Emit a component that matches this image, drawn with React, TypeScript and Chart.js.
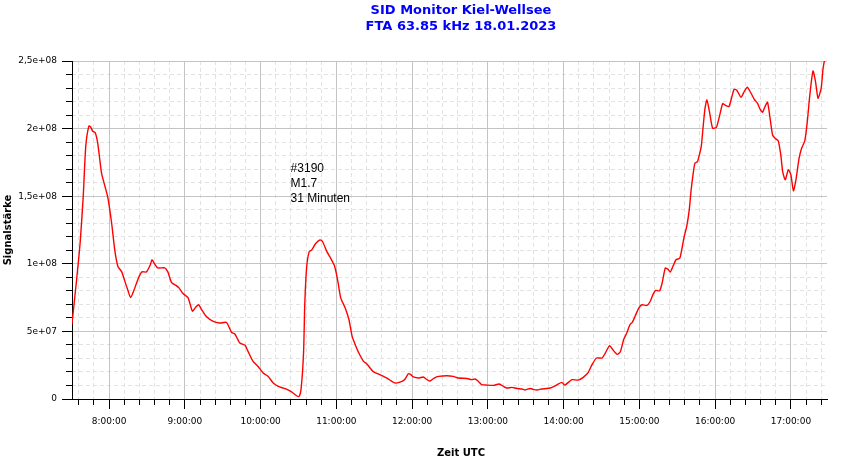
import React, { useEffect, useRef } from "react";
import { Chart, registerables } from "chart.js";
Chart.register(...registerables);

/** ---------- Data ---------- */
const titleLines = ["SID Monitor Kiel-Wellsee", "FTA 63.85 kHz 18.01.2023"];
const xTitle = "Zeit UTC";
const yTitle = "Signalstärke";
const flareNote = ["#3190", "M1.7", "31 Minuten"];
const flareNoteAt = { time: "10:23:45", value: 1.68e8 };

// sample times (UTC)
const times = [
  "7:30:30", "7:34:00", "7:37:00", "7:39:30", "7:41:30", "7:44:00", "7:45:30", "7:47:00", "7:49:00", "7:51:00",
  "7:54:00", "7:56:30", "7:59:00", "8:02:00", "8:04:30", "8:07:00", "8:10:00", "8:12:30", "8:15:00", "8:17:00",
  "8:19:30", "8:23:00", "8:26:00", "8:29:30", "8:32:30", "8:34:00", "8:36:00", "8:38:30", "8:44:00", "8:46:30",
  "8:49:30", "8:53:00", "8:55:30", "8:58:30", "9:02:30", "9:06:00", "9:09:00", "9:11:00", "9:13:00", "9:17:00",
  "9:22:30", "9:27:30", "9:33:00", "9:37:00", "9:39:30", "9:43:30", "9:47:30", "9:50:00", "9:54:00", "9:58:00",
  "10:02:00", "10:06:00", "10:10:00", "10:14:00", "10:19:30", "10:24:30", "10:28:30", "10:30:30", "10:32:00", "10:34:00",
  "10:35:00", "10:36:30", "10:38:30", "10:40:30", "10:43:30", "10:47:00", "10:49:00", "10:52:30", "10:55:00", "10:58:30",
  "11:01:00", "11:03:30", "11:07:00", "11:10:00", "11:12:30", "11:16:00", "11:18:30", "11:21:30", "11:24:00", "11:29:00",
  "11:34:30", "11:40:00", "11:46:30", "11:52:00", "11:54:30", "11:57:00", "11:59:00", "12:01:00", "12:05:00", "12:09:00",
  "12:11:00", "12:14:00", "12:17:30", "12:21:00", "12:27:30", "12:32:30", "12:36:30", "12:43:30", "12:47:00", "12:50:00",
  "12:52:30", "12:55:00", "12:59:00", "13:04:30", "13:09:00", "13:12:30", "13:15:00", "13:19:00", "13:23:00", "13:27:00",
  "13:29:30", "13:33:30", "13:36:00", "13:39:00", "13:42:30", "13:49:30", "13:53:30", "13:58:30", "14:01:00", "14:06:30",
  "14:11:30", "14:15:30", "14:19:30", "14:22:30", "14:26:00", "14:30:30", "14:33:00", "14:36:30", "14:39:00", "14:42:30",
  "14:45:00", "14:47:30", "14:50:00", "14:52:30", "14:54:30", "14:56:30", "14:59:30", "15:02:00", "15:06:00", "15:08:30",
  "15:11:00", "15:13:00", "15:16:00", "15:18:00", "15:20:30", "15:22:30", "15:24:30", "15:26:00", "15:29:00", "15:32:00",
  "15:33:30", "15:35:30", "15:37:30", "15:39:30", "15:41:00", "15:43:00", "15:44:00", "15:46:00", "15:47:30", "15:49:00",
  "15:50:30", "15:52:00", "15:53:30", "15:55:30", "15:58:00", "16:01:00", "16:03:30", "16:06:00", "16:08:30", "16:11:00",
  "16:15:00", "16:17:00", "16:20:30", "16:23:00", "16:25:30", "16:28:00", "16:31:00", "16:33:30", "16:35:30", "16:37:30",
  "16:39:30", "16:41:30", "16:43:30", "16:45:30", "16:47:30", "16:50:00", "16:52:00", "16:53:30", "16:55:30", "16:58:00",
  "17:00:00", "17:02:00", "17:04:00", "17:06:30", "17:08:30", "17:11:00", "17:13:00", "17:15:00", "17:17:30", "17:19:30",
  "17:21:30", "17:24:00", "17:25:30", "17:27:30",
];

// signal strength in units of 1e6
const signal = [
  55, 86, 115, 150, 187, 202, 201, 198, 197, 189,
  167, 158, 149, 130, 110, 98, 94, 87, 80, 75,
  80, 89, 94, 94, 99, 103, 100, 97, 97, 94,
  86, 84, 82, 78, 75, 65, 68.5, 69.7, 66.5, 61,
  57.4, 56.2, 56.6, 49.2, 48.3, 41.4, 39.9, 35.2, 27.8, 24.1,
  19.2, 16.7, 11.8, 9.3, 7.6, 5.2, 2.4, 1.9, 6.9, 34,
  71, 98, 109, 110.3, 114.8, 117.7, 116.5, 109, 105, 98.5,
  88, 74.6, 67.3, 58.6, 46.3, 37.7, 32.7, 27.8, 26.1, 20.4,
  18, 15.5, 11.8, 13, 14.8, 18.7, 18, 16.3, 15.5, 16.3,
  14.8, 13.3, 15.5, 16.7, 17.2, 16.7, 15.5, 15.2, 14.3, 14.8,
  13, 10.6, 10.3, 10.1, 11.1, 9.3, 8.1, 8.6, 7.8, 7.4,
  6.7, 7.8, 7.1, 6.7, 7.4, 8.1, 9.8, 12.3, 10.3, 14.3,
  14, 16, 19.7, 25.4, 30.3, 30.3, 34, 39.4, 36.4, 33,
  35.2, 43.8, 48.8, 54.9, 56.9, 61, 67.2, 69.7, 69.2, 72.1,
  77.8, 80.3, 80, 85.7, 96.8, 96.1, 93.9, 96.8, 103, 104.2,
  110.3, 120.2, 127.6, 139.9, 154.7, 169.5, 174.4, 175.6, 180.6, 186.7,
  201.5, 215.1, 221.2, 212.6, 200.3, 201, 209.4, 218.5, 217, 216.3,
  229.1, 228.6, 223.2, 227.3, 230.6, 226.9, 221.7, 218.8, 214.6, 212.1,
  216.3, 219.5, 207.7, 195.3, 192.9, 190.9, 180.6, 168.2, 162.1, 169.5,
  165.8, 154, 162.1, 178.1, 185.5, 190.9, 205.2, 224.9, 242.6, 234.7,
  222.5, 229.9, 244.6, 255,
];

// axis ranges and steps (x in minutes since midnight)
const xRange = { min: "7:30:36", max: "17:28:36" };
const xMajorStep = 60;
const xMinorStep = 12;
const yRange = { min: 0, max: 2.5e8 };
const yMajorStep = 5e7;
const yMinorStep = 1e7;

/** ---------- Helpers ---------- */
function toMinutes(t: string) {
  const [h, m, s] = t.split(":").map(Number);
  return h * 60 + m + (s || 0) / 60;
}

function fmtTime(min: number) {
  const h = Math.floor(min / 60);
  const m = Math.round(min - h * 60);
  return `${h}:${String(m).padStart(2, "0")}:00`;
}

// 2.5e8 -> "2,5e+08"
function fmtSci(v: number) {
  if (v === 0) return "0";
  const [mant, e] = v.toExponential().split("e");
  const exp = Number(e);
  return `${mant.replace(".", ",")}e${exp < 0 ? "-" : "+"}${String(Math.abs(exp)).padStart(2, "0")}`;
}

// ticks on whole multiples of step, inside the axis range
function stepTicks(scale: any, step: number) {
  const out: { value: number }[] = [];
  for (let v = Math.ceil(scale.min / step) * step; v <= scale.max + 1e-9; v += step) out.push({ value: v });
  scale.ticks = out;
}

const TICK_FONT = { family: "'DejaVu Sans'", size: 9 };
const MAJOR_GRID = "#c4c4c4";
const MINOR_GRID = "#e2e2e2";
const CLEAR = "rgba(0,0,0,0)";

/** ---------- Texts drawn on top ---------- */
const textPlugin = {
  id: "sid-texts",
  afterDraw(chart: any) {
    const { ctx, chartArea, scales } = chart;
    const cx = (chartArea.left + chart.width) / 2;
    ctx.save();

    ctx.fillStyle = "#0000ff";
    ctx.font = "bold 13px 'DejaVu Sans'";
    ctx.textAlign = "center";
    ctx.textBaseline = "alphabetic";
    ctx.fillText(titleLines[0], cx, 13.5);
    ctx.fillText(titleLines[1], cx, 29.5);

    ctx.fillStyle = "#000";
    ctx.font = "bold 10px 'DejaVu Sans'";
    ctx.fillText(xTitle, cx, 456);

    ctx.save();
    ctx.translate(11.3, (chartArea.top + chartArea.bottom) / 2);
    ctx.rotate(-Math.PI / 2);
    ctx.fillText(yTitle, 0, 0);
    ctx.restore();

    // flare annotation, anchored through the scales
    const nx = scales.x.getPixelForValue(toMinutes(flareNoteAt.time));
    const ny = scales.y.getPixelForValue(flareNoteAt.value);
    ctx.font = "12px 'Liberation Sans'";
    ctx.textAlign = "left";
    flareNote.forEach((line, i) => ctx.fillText(line, nx, ny + i * 15));

    ctx.restore();
  },
};

/** ---------- Component ---------- */
export default function App() {
  const canvasRef = useRef<HTMLCanvasElement | null>(null);

  useEffect(() => {
    document.body.style.margin = "0";
    const canvas = canvasRef.current;
    if (!canvas) return;

    const xMin = toMinutes(xRange.min);
    const xMax = toMinutes(xRange.max);
    const points = times.map((t, i) => ({ x: toMinutes(t), y: signal[i] * 1e6 }));

    const chart = new Chart(canvas, {
      type: "line",
      data: {
        datasets: [
          {
            label: "Signal",
            data: points,
            xAxisID: "x",
            yAxisID: "y",
            borderColor: "#ff0000",
            borderWidth: 1.4,
            pointRadius: 0,
            tension: 0.2,
            fill: false,
            clip: 0,
          },
        ],
      },
      options: {
        animation: false,
        responsive: true,
        maintainAspectRatio: false,
        events: [],
        layout: { padding: { top: 61, right: 23, bottom: 0, left: 0 } },
        plugins: {
          legend: { display: false },
          tooltip: { enabled: false },
          title: { display: false },
        },
        scales: {
          // minor grid: dashed, every 12 minutes
          xMinor: {
            type: "linear",
            position: "bottom",
            weight: 0,
            min: xMin,
            max: xMax,
            afterBuildTicks: (s: any) => stepTicks(s, xMinorStep),
            ticks: { display: false, autoSkip: false },
            grid: { color: MINOR_GRID, lineWidth: 1, tickLength: 6, tickColor: "#000" },
            border: { display: false, dash: [4, 3] },
            afterFit: (s: any) => {
              s.height = 0;
            },
          },
          // minor grid: dashed, every 1e7
          yMinor: {
            type: "linear",
            position: "left",
            weight: 0,
            min: yRange.min,
            max: yRange.max,
            afterBuildTicks: (s: any) => stepTicks(s, yMinorStep),
            ticks: { display: false, autoSkip: false },
            grid: {
              color: (c: any) => (c.tick && c.tick.value === 0 ? CLEAR : MINOR_GRID),
              lineWidth: 1,
              tickLength: 6,
              tickColor: "#000",
            },
            border: { display: false, dash: [4, 3] },
            afterFit: (s: any) => {
              s.width = 0;
            },
          },
          x: {
            type: "linear",
            position: "bottom",
            weight: 1,
            min: xMin,
            max: xMax,
            afterBuildTicks: (s: any) => stepTicks(s, xMajorStep),
            ticks: {
              autoSkip: false,
              maxRotation: 0,
              padding: 7,
              color: "#000",
              font: TICK_FONT,
              callback: (v: any) => fmtTime(Number(v)),
            },
            grid: { color: MAJOR_GRID, lineWidth: 1, tickLength: 10, tickColor: "#000" },
            border: { display: true, color: "#000", width: 1 },
            afterFit: (s: any) => {
              s.height = 60;
            },
          },
          y: {
            type: "linear",
            position: "left",
            weight: 1,
            min: yRange.min,
            max: yRange.max,
            afterBuildTicks: (s: any) => stepTicks(s, yMajorStep),
            ticks: {
              autoSkip: false,
              padding: 5,
              color: "#000",
              font: TICK_FONT,
              callback: (v: any) => fmtSci(Number(v)),
            },
            grid: {
              color: (c: any) => (c.tick && c.tick.value === 0 ? CLEAR : MAJOR_GRID),
              lineWidth: 1,
              tickLength: 10,
              tickColor: "#000",
            },
            border: { display: true, color: "#000", width: 1 },
            afterFit: (s: any) => {
              s.width = 72;
            },
          },
        },
      } as any,
      plugins: [textPlugin],
    });

    return () => {
      chart.destroy();
    };
  }, []);

  return (
    <div style={{ position: "relative", width: 850, height: 459, background: "#fff" }}>
      <canvas ref={canvasRef} />
    </div>
  );
}
